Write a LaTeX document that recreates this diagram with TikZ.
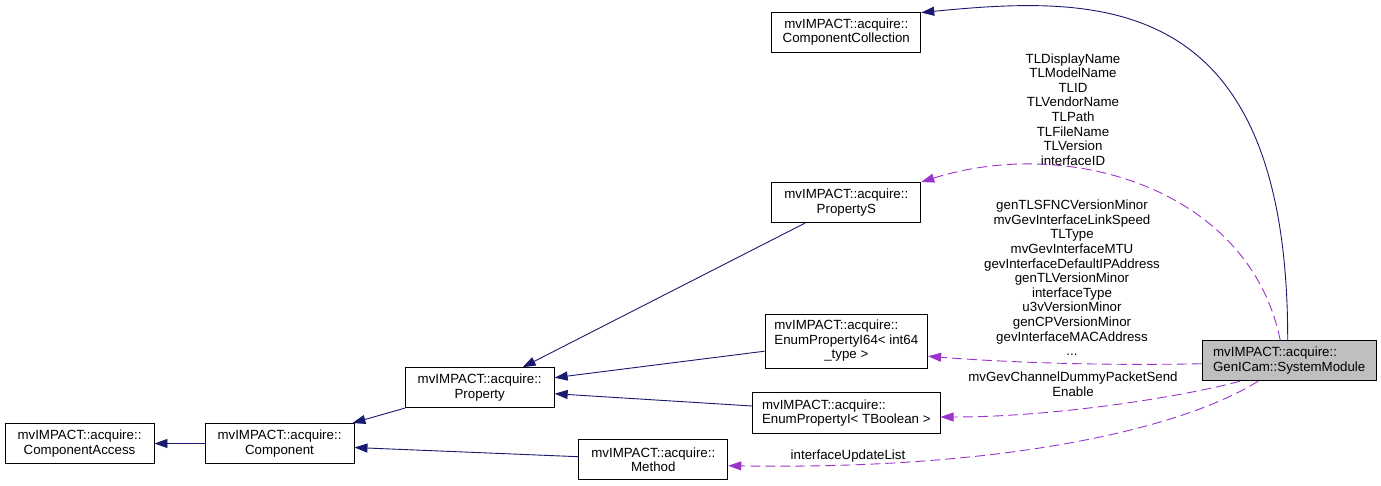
\documentclass[tikz,border=0pt]{standalone}
\usepackage{fontspec}
\setmainfont{Liberation Sans}
\usetikzlibrary{arrows.meta}

\definecolor{edgeblue}{RGB}{25,25,112}
\definecolor{edgepurple}{RGB}{154,50,205}
\definecolor{boxgray}{RGB}{191,191,191}

\begin{document}
\begin{tikzpicture}[x=1pt,y=-1pt,
    every node/.style={font=\fontsize{13.3}{14.6}\selectfont},
    cls/.style={draw=black,line width=0.9pt,align=center,inner sep=0pt,minimum width=149pt,minimum height=40pt},
    inh/.style={draw=edgeblue,line width=0.9pt,-{Triangle[length=13pt,width=9pt]}},
    usage/.style={draw=edgepurple,line width=0.9pt,dash pattern=on 10pt off 5pt,-{Triangle[length=13pt,width=9pt]}},
    lbl/.style={align=center,inner sep=0pt}]
    \useasboundingbox (0,0) rectangle (1381,485);

    % Draw class boxes
    \node[cls] (access) at (79.5,443.5) {mvIMPACT::acquire::\\ComponentAccess};
    \node[cls] (component) at (279.5,443.5) {mvIMPACT::acquire::\\Component};
    \node[cls] (property) at (479.7,387.7) {mvIMPACT::acquire::\\Property};
    \node[cls] (method) at (653.3,459.7) {mvIMPACT::acquire::\\Method};
    \node[cls,align=left,minimum width=187.5pt,minimum height=40.5pt] (enumbool) at (846.3,413) {mvIMPACT::acquire::\\EnumPropertyI< TBoolean >};
    \node[cls,minimum width=162.7pt,minimum height=54pt] (enum64) at (846.3,341.2)
        {\begin{tabular}{@{}l@{}}mvIMPACT::acquire::\\EnumPropertyI64< int64\\\multicolumn{1}{@{}c@{}}{\_type >}\end{tabular}};
    \node[cls] (propS) at (846.3,202.5) {mvIMPACT::acquire::\\PropertyS};
    \node[cls] (collection) at (846.3,32) {mvIMPACT::acquire::\\ComponentCollection};
    \node[cls,align=left,fill=boxgray,minimum width=173.7pt] (system) at (1289.2,360.7) {mvIMPACT::acquire::\\GenICam::SystemModule};

    % Draw member labels
    \node[lbl] (lblS) at (1073,109.5) {TLDisplayName\\TLModelName\\TLID\\TLVendorName\\TLPath\\TLFileName\\TLVersion\\interfaceID};
    \node[lbl] (lbl64) at (1072,277.8) {genTLSFNCVersionMinor\\mvGevInterfaceLinkSpeed\\TLType\\mvGevInterfaceMTU\\gevInterfaceDefaultIPAddress\\genTLVersionMinor\\interfaceType\\u3vVersionMinor\\genCPVersionMinor\\gevInterfaceMACAddress\\...};
    \node[lbl] (lblbool) at (1073,384) {mvGevChannelDummyPacketSend\\Enable};
    \node[lbl] (lblmethod) at (848,456) {interfaceUpdateList};

    % Inheritance
    \draw[inh] (component.west) -- (access.east);
    \draw[inh] (property.south west) -- ([xshift=-2pt]component.north east);
    \draw[inh] ([yshift=3pt]method.west) -- ([yshift=-4pt]component.east);
    \draw[inh] ([xshift=-41pt]propS.south) -- ([xshift=-32pt]property.north east);
    \draw[inh] ([yshift=-10pt]enum64.west) -- ([yshift=10pt]property.east);
    \draw[inh] ([yshift=7pt]enumbool.west) -- ([yshift=-6pt]property.east);
    \draw[inh] ([xshift=-1.5pt]system.north) .. controls (1288,-10) and (1100,-5) .. ([yshift=-1pt]collection.north east);

    % Usage
    \draw[usage] ([xshift=-9pt]system.north) .. controls (1250,190) and (1070,135) .. (propS.north east);
    \draw[usage] ([yshift=-3pt]system.west) .. controls (1100,366) and (1000,362) .. ([yshift=-15pt]enum64.east);
    \draw[usage] ([xshift=-49pt]system.south) .. controls (1190,395) and (1060,417) .. ([yshift=-4pt]enumbool.east);
    \draw[usage] ([xshift=-31pt]system.south) .. controls (1180,430) and (1000,470) .. ([yshift=-6pt]method.east);

\end{tikzpicture}
\end{document}
